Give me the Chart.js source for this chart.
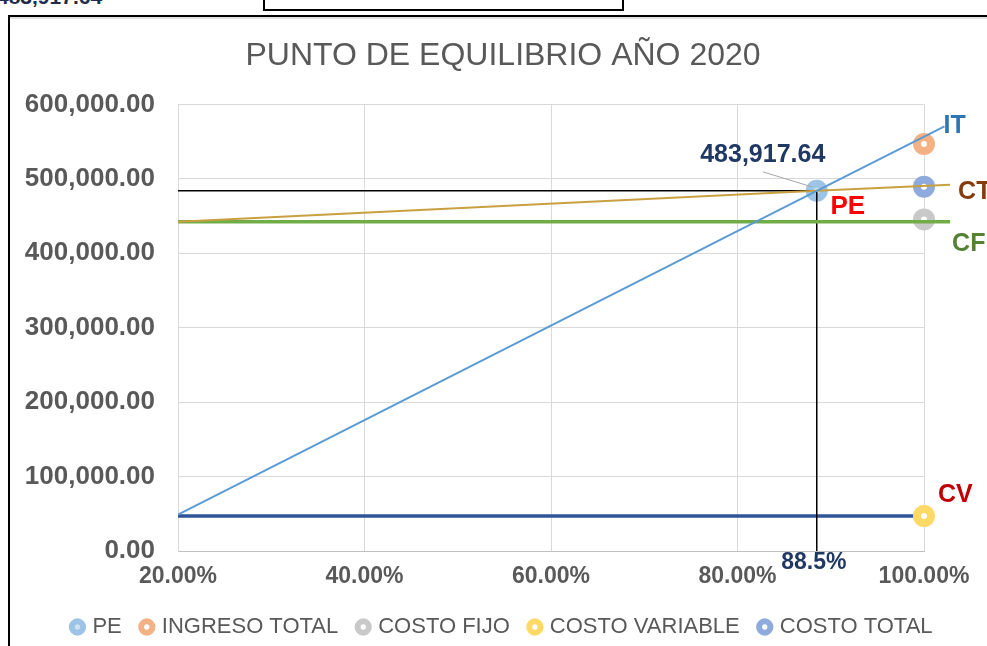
<!DOCTYPE html>
<html>
<head>
<meta charset="utf-8">
<script src="https://cdn.jsdelivr.net/npm/chart.js@4.4.1/dist/chart.umd.min.js"></script>
<style>
  html, body { margin: 0; padding: 0; background: #fff; overflow: hidden; }
  #wrap { position: relative; width: 987px; height: 646px; overflow: hidden; }
  #prev { position: absolute; left: -3px; top: -15px; font: bold 21px "Liberation Sans", Arial, sans-serif; color: #1f2d4d; }
  #cell { position: absolute; left: 263px; top: -30px; width: 357px; height: 37px; border: 2px solid #000; }
  #frame { position: absolute; left: 8px; top: 15px; width: 1200px; height: 900px; border: 2px solid #000; box-shadow: inset 0 2px 0 #e2e2e2; }
  canvas { position: absolute; left: 0; top: 0; }
</style>
</head>
<body>
<div id="wrap">
  <div id="prev">483,917.64</div>
  <div id="cell"></div>
  <div id="frame"></div>
  <canvas id="myChart" width="987" height="646"></canvas>
</div>
<script>
// ejes
var xTickValues = [0.2, 0.4, 0.6, 0.8, 1.0];
var xTickLabels = ['20.00%', '40.00%', '60.00%', '80.00%', '100.00%'];
var yTickValues = [0, 100000, 200000, 300000, 400000, 500000, 600000];
var yTickLabels = ['0.00', '100,000.00', '200,000.00', '300,000.00', '400,000.00', '500,000.00', '600,000.00'];

// punto de equilibrio
var peX = 0.885;
var peY = 483917.64;
var peValueText = '483,917.64';
var pePctText = '88.5%';

// marcadores (al 100% de ventas)
var seriesNames = ['PE', 'INGRESO TOTAL', 'COSTO FIJO', 'COSTO VARIABLE', 'COSTO TOTAL'];
var seriesX = [peX, 1.0, 1.0, 1.0, 1.0];
var seriesY = [peY, 546800, 445500, 47000, 489500];
var seriesColors = ['#9dc3e6', '#f4b183', '#c9c9c9', '#ffd966', '#8faadc'];

// rectas IT, CT, CF, CV
var itX = [0.2, 0.885, 1.022];
var itY = [49000, 483917.64, 570500];
var ctX = [0.2, 0.885, 1.028];
var ctY = [442300, 483917.64, 492000];
var cfX = [0.2, 1.028];
var cfY = [442300, 442300];
var cvX = [0.2, 1.0];
var cvY = [47000, 47000];
var lineNames = ['IT', 'CT', 'CF', 'CV'];
var lineColors = ['#2e75b6', '#843c0c', '#548235', '#c00000'];

function pts(xs, ys) {
    var out = [];
    for (var i = 0; i < xs.length; i++) out.push({ x: xs[i], y: ys[i] });
    return out;
}

function recta(xs, ys, color, width, order) {
    return {
        data: pts(xs, ys),
        showLine: true,
        borderColor: color,
        borderWidth: width,
        pointRadius: 0,
        pointHitRadius: 0,
        clip: false,
        order: order
    };
}

var datasets = [
    recta(itX, itY, '#5b9bd5', 2, 0),
    recta(ctX, ctY, '#c8a040', 2, 0),
    recta(cfX, cfY, '#70ad47', 3.5, 0),
    recta(cvX, cvY, '#2f5597', 3.5, 2),
    recta([0.2, peX], [peY, peY], '#000', 1.5, 0),
    recta([peX, peX], [peY, 0], '#000', 1.5, 0)
];
var firstMarker = datasets.length;

for (var i = 0; i < seriesNames.length; i++) {
    datasets.push({
        label: seriesNames[i],
        data: [{ x: seriesX[i], y: seriesY[i] }],
        showLine: false,
        pointRadius: 7,
        pointBorderWidth: 8,
        pointBackgroundColor: i === 0 ? '#cfe2f3' : '#fff',
        pointBorderColor: seriesColors[i],
        clip: false,
        order: 1
    });
}

// textos sobre el grafico
var etiquetas = {
    id: 'etiquetas',
    afterDatasetsDraw: function(chart) {
        var ctx = chart.ctx;
        var xs = chart.scales.x, ys = chart.scales.y;
        var px = xs.getPixelForValue(peX), py = ys.getPixelForValue(peY);
        ctx.save();

        ctx.strokeStyle = '#a6a6a6';
        ctx.lineWidth = 1;
        ctx.beginPath();
        ctx.moveTo(px - 54, py - 19);
        ctx.lineTo(px - 5, py - 4);
        ctx.stroke();

        ctx.textBaseline = 'middle';
        ctx.textAlign = 'center';
        ctx.fillStyle = '#203864';
        ctx.font = 'bold 25px "Liberation Sans", Arial, sans-serif';
        ctx.fillText(peValueText, px - 54, py - 36);
        ctx.font = 'bold 23px "Liberation Sans", Arial, sans-serif';
        ctx.fillText(pePctText, px - 3, ys.bottom + 12);

        ctx.fillStyle = '#ff0000';
        ctx.font = 'bold 26px "Liberation Sans", Arial, sans-serif';
        ctx.fillText('PE', px + 31, py + 16);

        // nombre de cada recta junto a su extremo
        var ends = [
            [itX[itX.length - 1], itY[itY.length - 1], -1, 0],
            [ctX[ctX.length - 1], ctY[ctY.length - 1], 8, 7],
            [cfX[cfX.length - 1], cfY[cfY.length - 1], 2, 22],
            [cvX[cvX.length - 1], cvY[cvY.length - 1], 14, -21]
        ];
        ctx.textAlign = 'left';
        ctx.font = 'bold 25px "Liberation Sans", Arial, sans-serif';
        for (var k = 0; k < ends.length; k++) {
            ctx.fillStyle = lineColors[k];
            ctx.fillText(lineNames[k],
                xs.getPixelForValue(ends[k][0]) + ends[k][2],
                ys.getPixelForValue(ends[k][1]) + ends[k][3]);
        }
        ctx.restore();
    }
};

Chart.defaults.font.family = '"Liberation Sans", Arial, sans-serif';
Chart.defaults.color = '#595959';

var ctx = document.getElementById('myChart').getContext('2d');
window.myChart = new Chart(ctx, {
    type: 'scatter',
    data: { datasets: datasets },
    plugins: [etiquetas],
    options: {
        responsive: false,
        animation: false,
        events: [],
        layout: { padding: { left: 19, right: 0, top: 0, bottom: -2 } },
        plugins: {
            tooltip: { enabled: false },
            title: {
                display: true,
                text: 'PUNTO DE EQUILIBRIO AÑO 2020',
                color: '#595959',
                font: { size: 32, weight: 'normal' },
                padding: { top: 37, bottom: 29 }
            },
            legend: {
                position: 'bottom',
                labels: {
                    usePointStyle: true,
                    pointStyle: 'circle',
                    boxWidth: 8,
                    boxHeight: 8,
                    padding: 21,
                    color: '#595959',
                    font: { size: 22 },
                    generateLabels: function(chart) {
                        var items = Chart.defaults.plugins.legend.labels.generateLabels(chart);
                        return items.filter(function(it) {
                            return it.datasetIndex >= firstMarker;
                        }).map(function(it) {
                            it.lineWidth = 6;
                            return it;
                        });
                    }
                }
            }
        },
        scales: {
            x: {
                type: 'linear',
                min: 0.2,
                max: 1.0,
                afterBuildTicks: function(s) {
                    s.ticks = xTickValues.map(function(v) { return { value: v }; });
                },
                afterFit: function(s) { s.height = 44; },
                grid: { color: '#d9d9d9', drawTicks: false },
                border: { color: '#bfbfbf' },
                ticks: {
                    padding: 12,
                    color: '#595959',
                    font: { size: 23, weight: 'bold' },
                    maxRotation: 0,
                    callback: function(v, i) { return xTickLabels[i]; }
                }
            },
            y: {
                min: 0,
                max: 600000,
                afterBuildTicks: function(s) {
                    s.ticks = yTickValues.map(function(v) { return { value: v }; });
                },
                afterFit: function(s) { s.width = 159; },
                grid: { color: '#d9d9d9', drawTicks: false },
                border: { color: '#d9d9d9' },
                ticks: {
                    padding: 23,
                    color: '#595959',
                    font: { size: 26, weight: 'bold' },
                    callback: function(v, i) { return yTickLabels[i]; }
                }
            },
            margen: {
                type: 'linear',
                position: 'right',
                grid: { display: false, drawTicks: false },
                border: { display: false },
                ticks: { display: false },
                afterFit: function(s) { s.width = 63; }
            }
        }
    }
});
</script>
</body>
</html>
